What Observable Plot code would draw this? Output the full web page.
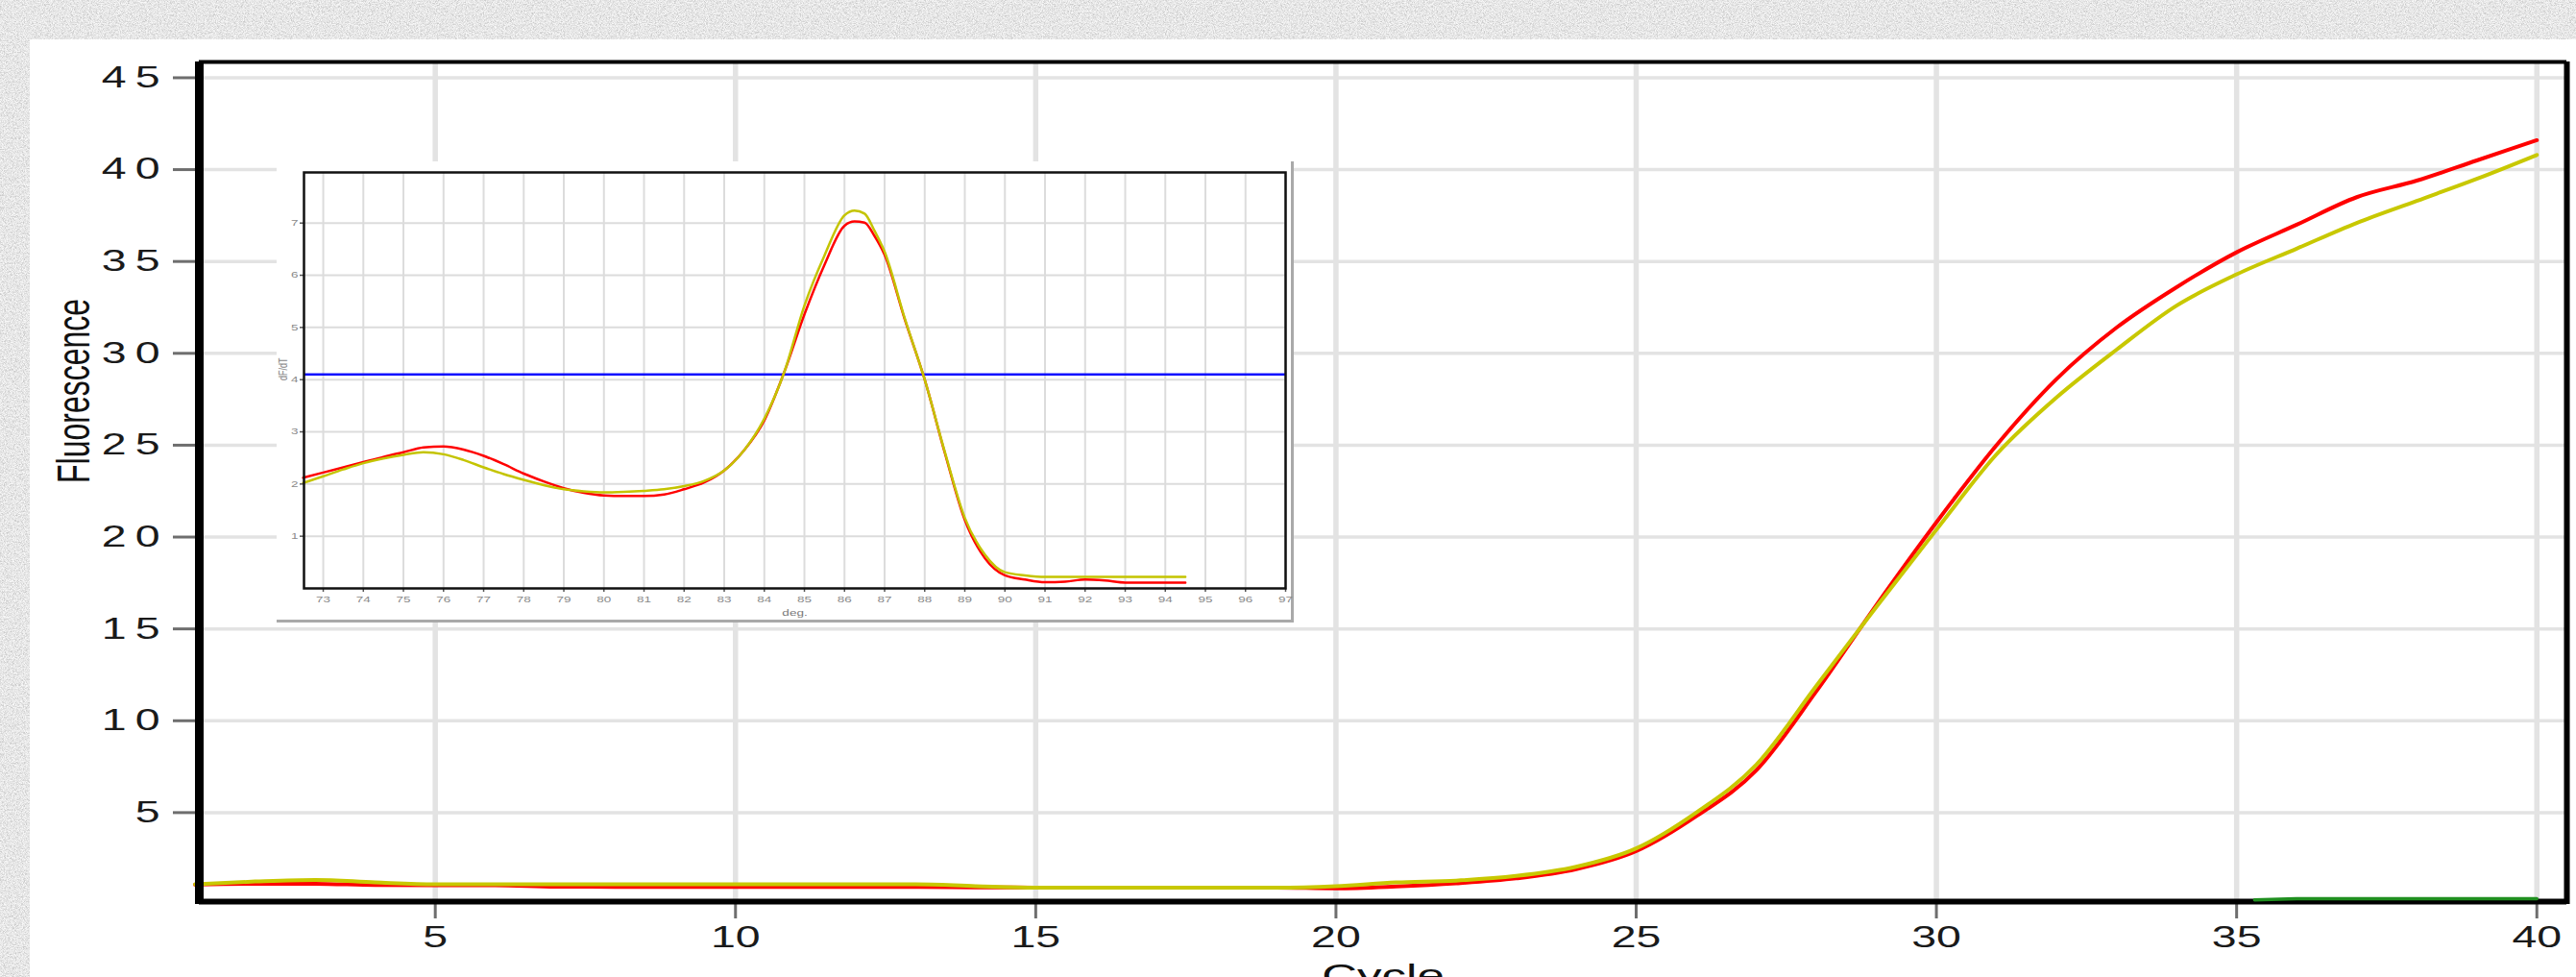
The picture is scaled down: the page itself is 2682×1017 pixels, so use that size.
<!DOCTYPE html>
<html>
<head>
<meta charset="utf-8">
<script src="https://cdn.jsdelivr.net/npm/d3@7"></script>
<script src="https://cdn.jsdelivr.net/npm/@observablehq/plot@0.6"></script>
<style>
  html, body { margin: 0; padding: 0; width: 2682px; height: 1017px; overflow: hidden; background: #e2e2e2; }
  #bg { position: absolute; left: 0; top: 0; }
  #panel { position: absolute; left: 31px; top: 41px; width: 2651px; height: 976px; background: #fff; }
  #main { position: absolute; left: 31px; top: 41px; }
  #inset { position: absolute; left: 288px; top: 168px; width: 1056px; height: 477px; background: #fff;
           border-right: 3px solid #a9a9a9; border-bottom: 3px solid #a9a9a9; }
</style>
</head>
<body>
<svg id="bg" width="2682" height="1017">
  <filter id="noise" x="0" y="0" width="100%" height="100%">
    <feTurbulence type="fractalNoise" baseFrequency="0.45" numOctaves="4" seed="7"/>
    <feColorMatrix type="matrix" values="0 0 0 0 0.55  0 0 0 0 0.55  0 0 0 0 0.55  3.2 0 0 0 -1.25"/>
  </filter>
  <filter id="noise2" x="0" y="0" width="100%" height="100%">
    <feTurbulence type="fractalNoise" baseFrequency="0.9" numOctaves="2" seed="21"/>
    <feColorMatrix type="matrix" values="0 0 0 0 1  0 0 0 0 1  0 0 0 0 1  3.0 0 0 0 -1.1"/>
  </filter>
  <rect width="2682" height="1017" fill="#e3e3e3"/>
  <rect width="2682" height="1017" filter="url(#noise)" opacity="0.8"/>
  <rect width="2682" height="1017" filter="url(#noise2)" opacity="0.8"/>
</svg>
<div id="panel"></div>
<div id="main"></div>
<div id="inset"></div>
<script>
// ---------- Amplification plot data ----------
const cycles = [1,2,3,4,5,6,7,8,9,10,11,12,13,14,15,16,17,18,19,20,
                21,22,23,24,25,26,27,28,29,30,31,32,33,34,35,36,37,38,39,40];
const redFluor = [1.08,1.13,1.13,1.06,1.05,1.05,0.97,0.96,0.96,0.96,0.96,0.96,0.96,0.93,0.92,0.92,0.92,0.92,0.92,0.88,
                  0.98,1.15,1.42,1.92,2.9,4.8,7.3,11.6,16.3,20.8,25.0,28.6,31.4,33.6,35.5,37.0,38.5,39.4,40.5,41.6];
const yellowFluor = [1.1,1.25,1.34,1.2,1.1,1.1,1.1,1.1,1.1,1.1,1.1,1.1,1.1,1.0,0.92,0.92,0.92,0.92,0.92,1.0,
                     1.2,1.3,1.55,2.05,3.05,5.0,7.6,11.9,16.2,20.4,24.5,27.6,30.2,32.6,34.3,35.7,37.1,38.3,39.5,40.8];
const greenCycles = [35.3, 36, 37, 38, 39, 40];
const greenFluor = [0.25, 0.32, 0.32, 0.32, 0.32, 0.32];
const xTicks = [5,10,15,20,25,30,35,40];
const yTicks = [5,10,15,20,25,30,35,40,45];
const xDomain = [1.07, 40.5];
const yDomain = [0, 45.86];

// ---------- Melt curve (inset) data ----------
const meltTemp = [72.5,73,73.5,74,74.5,75,75.5,76,76.5,77,77.5,78,78.5,79,79.5,80,80.5,81,81.5,82,82.5,83,83.5,84,84.5,
                  85,85.5,86,86.25,86.5,86.75,87,87.5,88,88.5,89,89.5,90,90.5,91,91.5,92,92.5,93,93.5,94,94.5];
const meltRed = [2.12,2.22,2.32,2.42,2.52,2.61,2.70,2.72,2.66,2.54,2.38,2.20,2.05,1.92,1.83,1.78,1.77,1.77,1.80,1.90,2.03,2.26,2.65,3.22,4.15,
                 5.25,6.2,6.95,7.03,7.01,6.75,6.39,5.16,4.0,2.6,1.31,0.58,0.25,0.17,0.12,0.13,0.17,0.15,0.11,0.11,0.11,0.11];
const meltYellow = [2.02,2.15,2.28,2.40,2.49,2.56,2.61,2.57,2.46,2.32,2.19,2.08,1.98,1.90,1.86,1.84,1.85,1.87,1.90,1.96,2.06,2.26,2.65,3.25,4.15,
                    5.42,6.38,7.15,7.24,7.18,6.85,6.45,5.18,4.0,2.62,1.35,0.65,0.31,0.25,0.22,0.22,0.22,0.22,0.22,0.22,0.22,0.22];
const meltThreshold = 4.1;
const meltTicks = [73,74,75,76,77,78,79,80,81,82,83,84,85,86,87,88,89,90,91,92,93,94,95,96,97];
const dfTicks = [1,2,3,4,5,6,7];
const meltXDomain = [72.52, 97];
const meltYDomain = [0, 7.97];

const font = "Liberation Sans, Arial, Helvetica, sans-serif";
const toRows = (xs, ys) => xs.map((x, i) => ({x, y: ys[i]}));

const main = Plot.plot({
  width: 2651, height: 976,
  marginLeft: 176, marginRight: 10, marginTop: 23, marginBottom: 76,
  x: {domain: xDomain},
  y: {domain: yDomain},
  style: {background: "white", fontFamily: font, overflow: "visible", maxWidth: "none"},
  marks: [
    Plot.gridX(xTicks, {stroke: "#e3e3e3", strokeOpacity: 1, strokeWidth: 5.5}),
    Plot.gridY(yTicks, {stroke: "#e3e3e3", strokeOpacity: 1, strokeWidth: 3.5}),
    Plot.line(toRows(cycles, redFluor), {x: "x", y: "y", stroke: "#ff0000", strokeWidth: 4, curve: "monotone-x"}),
    Plot.line(toRows(cycles, yellowFluor), {x: "x", y: "y", stroke: "#c8c800", strokeWidth: 4, curve: "monotone-x"}),
    Plot.axisY({ticks: yTicks, tickSize: 27, tickPadding: 5, stroke: "#6e6e6e", strokeWidth: 3,
                fill: "#1a1a1a", fontSize: 31, label: null}),
    Plot.axisX({ticks: xTicks, tickSize: 15, tickPadding: 7, stroke: "#6e6e6e", strokeWidth: 3,
                fill: "#1a1a1a", fontSize: 31, label: null}),
    Plot.ruleX([xDomain[0]], {stroke: "black", strokeWidth: 9}),
    Plot.ruleX([xDomain[1]], {stroke: "black", strokeWidth: 6}),
    Plot.ruleY([yDomain[1]], {stroke: "black", strokeWidth: 4}),
    Plot.ruleY([yDomain[0]], {stroke: "black", strokeWidth: 6, dy: -3}),
    Plot.line(toRows(greenCycles, greenFluor), {x: "x", y: "y", stroke: "#1f8f1f", strokeWidth: 3.5}),
    Plot.text(["Fluorescence"], {frameAnchor: "left", rotate: -90, dx: -130, fontSize: 32, fill: "#111"}),
    Plot.text(["Cycle"], {frameAnchor: "bottom", lineAnchor: "top", dy: 61, fontSize: 34, fill: "#111"})
  ]
});

const inset = Plot.plot({
  width: 1056, height: 477,
  marginLeft: 28, marginRight: 6, marginTop: 11, marginBottom: 33,
  x: {domain: meltXDomain},
  y: {domain: meltYDomain},
  style: {background: "white", fontFamily: font, overflow: "visible", maxWidth: "none"},
  marks: [
    Plot.gridX(meltTicks, {stroke: "#dcdcdc", strokeOpacity: 1, strokeWidth: 2}),
    Plot.gridY(dfTicks, {stroke: "#dcdcdc", strokeOpacity: 1, strokeWidth: 2}),
    Plot.ruleY([meltThreshold], {stroke: "#1010ff", strokeWidth: 2.5}),
    Plot.line(toRows(meltTemp, meltRed), {x: "x", y: "y", stroke: "#ff0000", strokeWidth: 2.5, curve: "monotone-x"}),
    Plot.line(toRows(meltTemp, meltYellow), {x: "x", y: "y", stroke: "#c4c400", strokeWidth: 2.5, curve: "monotone-x"}),
    Plot.axisX({ticks: meltTicks, tickSize: 4, tickPadding: 4, stroke: "#555", strokeWidth: 1.5,
                fill: "#8a8a8a", fontSize: 9, label: null}),
    Plot.axisY({ticks: dfTicks, tickSize: 4, tickPadding: 2, stroke: "#555", strokeWidth: 1.5,
                fill: "#8a8a8a", fontSize: 9, label: null}),
    Plot.frame({stroke: "#111", strokeWidth: 2.5}),
    Plot.text(["deg."], {frameAnchor: "bottom", dy: 28, fontSize: 9, fill: "#777"}),
    Plot.text(["dF/dT"], {frameAnchor: "left", rotate: -90, dx: -22, fontSize: 9, fill: "#888"})
  ]
});

document.getElementById("main").appendChild(main);
document.getElementById("inset").appendChild(inset);

// The source image is horizontally stretched: widen glyphs 1.5x around each text anchor.
function stretchTexts(svg, sx) {
  svg.querySelectorAll("text").forEach(t => {
    const tr = t.getAttribute("transform");
    const m = tr && tr.match(/^\s*translate\(([^)]*)\)(.*)$/);
    if (m) {
      t.setAttribute("transform", `translate(${m[1]}) scale(${sx},1)${m[2]}`);
    } else {
      const x = +(t.getAttribute("x") || 0), y = +(t.getAttribute("y") || 0);
      t.setAttribute("x", 0); t.setAttribute("y", 0);
      t.setAttribute("transform", `translate(${x},${y}) scale(${sx},1) ${tr || ""}`);
    }
  });
}
const yLabels = main.querySelector('g[aria-label="y-axis tick label"]');
if (yLabels) yLabels.style.letterSpacing = "6px";
stretchTexts(main, 1.5);
stretchTexts(inset, 1.5);
</script>
</body>
</html>
